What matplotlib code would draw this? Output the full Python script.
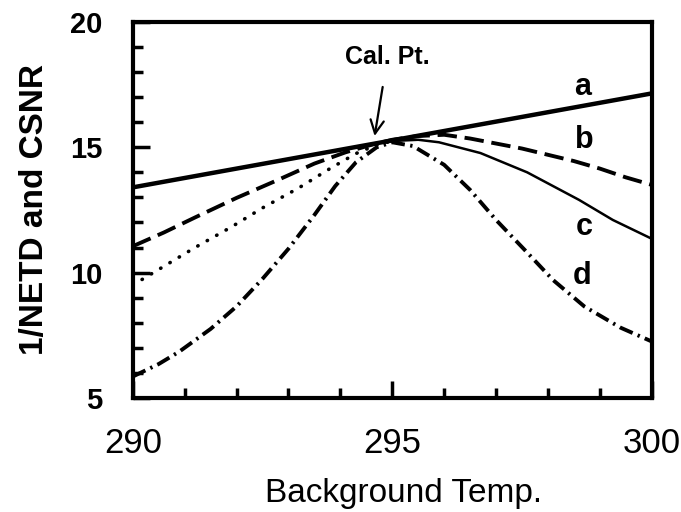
import matplotlib
matplotlib.use("Agg")
import matplotlib.pyplot as plt
from matplotlib.ticker import MultipleLocator

plt.rcParams["font.family"] = ["Liberation Sans", "DejaVu Sans"]

# curve a: straight line through the calibration point
temp_a = [290.0, 300.0]
snr_a = [13.4, 17.15]

# curve b (dashed)
temp_b = [290.0, 290.6, 291.2, 292.0, 292.8, 293.5, 294.1, 294.6, 295.0,
          295.5, 296.0, 296.5, 297.0, 297.5, 298.0, 298.5, 299.0, 299.5, 300.0]
snr_b = [11.05, 11.6, 12.2, 12.98, 13.7, 14.35, 14.8, 15.1, 15.3,
         15.45, 15.5, 15.35, 15.15, 14.95, 14.7, 14.45, 14.15, 13.8, 13.5]

# curve c: dotted below the cal point, thin solid above
temp_c_lo = [290.0, 290.6, 291.2, 291.9, 292.5, 293.2, 293.8, 294.3, 294.7, 295.0]
snr_c_lo = [9.5, 10.25, 11.0, 11.82, 12.58, 13.38, 14.15, 14.75, 15.1, 15.25]
temp_c_hi = [295.0, 295.5, 295.9, 296.7, 297.6, 298.6, 299.25, 300.0]
snr_c_hi = [15.25, 15.3, 15.2, 14.77, 14.0, 12.9, 12.1, 11.35]

# curve d (dash-dot)
temp_d = [290.0, 290.5, 290.9, 291.5, 292.0, 292.5, 293.0, 293.5, 293.9, 294.3,
          294.7, 295.0, 295.4, 296.0, 296.5, 297.0, 297.6, 298.1, 298.7, 299.4, 300.0]
snr_d = [5.85, 6.35, 6.85, 7.75, 8.65, 9.75, 10.95, 12.3, 13.45, 14.4,
         15.0, 15.2, 15.05, 14.3, 13.3, 12.1, 10.8, 9.7, 8.65, 7.8, 7.25]

curve_labels = ["a", "b", "c", "d"]
label_x = [298.67, 298.7, 298.7, 298.65]
label_y = [17.4, 15.3, 11.8, 9.85]

cal_temp = 294.66

fig = plt.figure(figsize=(6.81, 5.12), dpi=100)
ax = fig.add_axes([0.195, 0.223, 0.762, 0.734])

ax.plot(temp_a, snr_a, color="black", lw=3.2, solid_capstyle="butt")
ax.plot(temp_b, snr_b, color="black", lw=2.8, dashes=(5, 2))
ax.plot(temp_c_lo, snr_c_lo, color="black", lw=2.6, dashes=(0.1, 2.9),
        dash_capstyle="round")
ax.plot(temp_c_hi, snr_c_hi, color="black", lw=1.8)
ax.plot(temp_d, snr_d, color="black", lw=2.8, dashes=(3.6, 1.4, 0.6, 1.4))

for t, x, y in zip(curve_labels, label_x, label_y):
    ax.text(x, y, t, fontsize=22, fontweight="bold", ha="center", va="center")

ax.annotate("Cal. Pt.", xy=(cal_temp, 15.45), xytext=(cal_temp + 0.25, 18.6),
            fontsize=18, fontweight="bold", ha="center", va="center",
            arrowprops=dict(arrowstyle="->", color="black", lw=1.6,
                            mutation_scale=24, shrinkA=11, shrinkB=0))

ax.set_xlim(290, 300)
ax.set_ylim(5, 20)
ax.set_xticks([290, 295, 300])
ax.set_yticks([5, 10, 15, 20])
ax.xaxis.set_minor_locator(MultipleLocator(1))
ax.yaxis.set_minor_locator(MultipleLocator(1))
ax.tick_params(which="both", direction="in", top=False, right=False, width=2.5)
ax.tick_params(which="major", length=12)
ax.tick_params(which="minor", length=7)
ax.tick_params(axis="x", which="major", pad=21, labelsize=25)
ax.tick_params(axis="y", which="major", pad=22, labelsize=21)
for lbl in ax.get_yticklabels():
    lbl.set_fontweight("bold")
for sp in ax.spines.values():
    sp.set_linewidth(3)

ax.set_xlabel("Background Temp.", fontsize=24, labelpad=13)
ax.xaxis.label.set_x(0.522)
ax.set_ylabel("1/NETD and CSNR", fontsize=24, fontweight="bold", labelpad=14)

fig.savefig("out.png", dpi=100)
